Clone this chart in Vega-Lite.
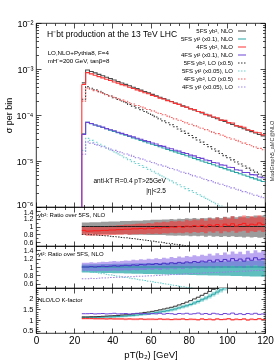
{
"$schema": "https://vega.github.io/schema/vega-lite/v6.json",
"padding": {"left": 3, "top": 18, "right": 2, "bottom": 2},
"bounds": "flush",
"spacing": 0,
"config": {
  "view": {"stroke": "#000", "strokeWidth": 0.8},
  "font": "Liberation Sans",
  "axis": {"domain": false, "grid": false, "labelFont": "Liberation Sans", "labelColor": "#000", "tickColor": "#000", "tickWidth": 0.7, "labelFlush": false, "labelOverlap": false, "titleFont": "Liberation Sans", "titleFontWeight": "normal", "titleColor": "#000"},
  "text": {"font": "Liberation Sans"}
},
"datasets": {
"m": [
{"x":24,"A":5.0e-4,"B":3.9e-5,"C":4.6e-4,"P":3.8e-5,"D":2.2e-4,"T":1.7e-5,"E":2.0e-4,"Q":1.4e-5},
{"x":26,"A":9.50e-4,"B":6.90e-5,"C":8.36e-4,"P":6.90e-5,"D":4.13e-4,"T":3.10e-5,"E":3.87e-4,"Q":2.60e-5},
{"x":28,"A":8.84e-4,"B":6.47e-5,"C":7.82e-4,"P":6.53e-5,"D":3.81e-4,"T":2.81e-5,"E":3.62e-4,"Q":2.45e-5},
{"x":30,"A":8.23e-4,"B":6.07e-5,"C":7.32e-4,"P":6.07e-5,"D":3.55e-4,"T":2.55e-5,"E":3.38e-4,"Q":2.30e-5},
{"x":32,"A":7.66e-4,"B":5.69e-5,"C":6.82e-4,"P":5.75e-5,"D":3.27e-4,"T":2.32e-5,"E":3.16e-4,"Q":2.17e-5},
{"x":34,"A":7.13e-4,"B":5.34e-5,"C":6.42e-4,"P":5.45e-5,"D":3.02e-4,"T":2.11e-5,"E":2.96e-4,"Q":2.04e-5},
{"x":36,"A":6.64e-4,"B":5.01e-5,"C":5.98e-4,"P":5.06e-5,"D":2.79e-4,"T":1.91e-5,"E":2.76e-4,"Q":1.92e-5},
{"x":38,"A":6.18e-4,"B":4.70e-5,"C":5.62e-4,"P":4.79e-5,"D":2.58e-4,"T":1.74e-5,"E":2.58e-4,"Q":1.81e-5},
{"x":40,"A":5.75e-4,"B":4.40e-5,"C":5.23e-4,"P":4.53e-5,"D":2.38e-4,"T":1.58e-5,"E":2.42e-4,"Q":1.70e-5},
{"x":42,"A":5.35e-4,"B":4.13e-5,"C":4.92e-4,"P":4.21e-5,"D":2.19e-4,"T":1.43e-5,"E":2.26e-4,"Q":1.60e-5},
{"x":44,"A":4.98e-4,"B":3.87e-5,"C":4.58e-4,"P":3.99e-5,"D":2.01e-4,"T":1.30e-5,"E":2.11e-4,"Q":1.51e-5},
{"x":46,"A":4.64e-4,"B":3.63e-5,"C":4.32e-4,"P":3.78e-5,"D":1.86e-4,"T":1.18e-5,"E":1.98e-4,"Q":1.42e-5},
{"x":48,"A":4.32e-4,"B":3.41e-5,"C":4.02e-4,"P":3.51e-5,"D":1.70e-4,"T":1.07e-5,"E":1.85e-4,"Q":1.34e-5},
{"x":50,"A":4.02e-4,"B":3.19e-5,"C":3.78e-4,"P":3.35e-5,"D":1.56e-4,"T":9.70e-6,"E":1.73e-4,"Q":1.26e-5},
{"x":52,"A":3.74e-4,"B":3.00e-5,"C":3.52e-4,"P":3.12e-5,"D":1.43e-4,"T":8.81e-6,"E":1.61e-4,"Q":1.18e-5},
{"x":54,"A":3.48e-4,"B":2.81e-5,"C":3.31e-4,"P":2.98e-5,"D":1.31e-4,"T":8.00e-6,"E":1.51e-4,"Q":1.11e-5},
{"x":56,"A":3.24e-4,"B":2.64e-5,"C":3.05e-4,"P":2.77e-5,"D":1.19e-4,"T":7.26e-6,"E":1.41e-4,"Q":1.05e-5},
{"x":58,"A":3.02e-4,"B":2.47e-5,"C":2.90e-4,"P":2.64e-5,"D":1.09e-4,"T":6.59e-6,"E":1.32e-4,"Q":9.86e-6},
{"x":60,"A":2.81e-4,"B":2.32e-5,"C":2.67e-4,"P":2.46e-5,"D":9.96e-5,"T":5.98e-6,"E":1.23e-4,"Q":9.28e-6},
{"x":62,"A":2.61e-4,"B":2.17e-5,"C":2.53e-4,"P":2.34e-5,"D":9.06e-5,"T":5.43e-6,"E":1.15e-4,"Q":8.73e-6},
{"x":64,"A":2.43e-4,"B":2.04e-5,"C":2.33e-4,"P":2.16e-5,"D":8.21e-5,"T":4.93e-6,"E":1.08e-4,"Q":8.22e-6},
{"x":66,"A":2.27e-4,"B":1.91e-5,"C":2.22e-4,"P":2.08e-5,"D":7.47e-5,"T":4.48e-6,"E":1.01e-4,"Q":7.74e-6},
{"x":68,"A":2.11e-4,"B":1.79e-5,"C":2.05e-4,"P":1.92e-5,"D":6.76e-5,"T":4.06e-6,"E":9.43e-5,"Q":7.28e-6},
{"x":70,"A":1.96e-4,"B":1.68e-5,"C":1.94e-4,"P":1.85e-5,"D":6.13e-5,"T":3.69e-6,"E":8.82e-5,"Q":6.85e-6},
{"x":72,"A":1.83e-4,"B":1.58e-5,"C":1.79e-4,"P":1.71e-5,"D":5.55e-5,"T":3.35e-6,"E":8.24e-5,"Q":6.45e-6},
{"x":74,"A":1.70e-4,"B":1.48e-5,"C":1.70e-4,"P":1.64e-5,"D":4.97e-5,"T":3.04e-6,"E":7.71e-5,"Q":6.07e-6},
{"x":76,"A":1.58e-4,"B":1.39e-5,"C":1.55e-4,"P":1.52e-5,"D":4.46e-5,"T":2.76e-6,"E":7.20e-5,"Q":5.71e-6},
{"x":78,"A":1.47e-4,"B":1.30e-5,"C":1.48e-4,"P":1.46e-5,"D":3.99e-5,"T":2.51e-6,"E":6.73e-5,"Q":5.38e-6},
{"x":80,"A":1.37e-4,"B":1.22e-5,"C":1.36e-4,"P":1.34e-5,"D":3.59e-5,"T":2.27e-6,"E":6.30e-5,"Q":5.06e-6},
{"x":82,"A":1.28e-4,"B":1.14e-5,"C":1.31e-4,"P":1.29e-5,"D":3.22e-5,"T":2.06e-6,"E":5.89e-5,"Q":4.76e-6},
{"x":84,"A":1.19e-4,"B":1.07e-5,"C":1.19e-4,"P":1.19e-5,"D":2.87e-5,"T":1.87e-6,"E":5.50e-5,"Q":4.48e-6},
{"x":86,"A":1.11e-4,"B":1.00e-5,"C":1.14e-4,"P":1.14e-5,"D":2.57e-5,"T":1.70e-6,"E":5.14e-5,"Q":4.22e-6},
{"x":88,"A":1.03e-4,"B":9.41e-6,"C":1.02e-4,"P":1.05e-5,"D":2.29e-5,"T":1.54e-6,"E":4.81e-5,"Q":3.97e-6},
{"x":90,"A":9.59e-5,"B":8.83e-6,"C":9.97e-5,"P":1.02e-5,"D":2.05e-5,"T":1.40e-6,"E":4.50e-5,"Q":3.74e-6},
{"x":92,"A":8.93e-5,"B":8.28e-6,"C":9.02e-5,"P":9.27e-6,"D":1.83e-5,"T":1.27e-6,"E":4.20e-5,"Q":3.52e-6},
{"x":94,"A":8.31e-5,"B":7.76e-6,"C":8.73e-5,"P":9.08e-6,"D":1.64e-5,"T":1.16e-6,"E":3.93e-5,"Q":3.31e-6},
{"x":96,"A":7.73e-5,"B":7.28e-6,"C":7.73e-5,"P":8.23e-6,"D":1.46e-5,"T":1.05e-6,"E":3.67e-5,"Q":3.12e-6},
{"x":98,"A":7.20e-5,"B":6.83e-6,"C":7.63e-5,"P":8.06e-6,"D":1.31e-5,"T":9.5e-7,"E":3.43e-5,"Q":2.93e-6},
{"x":100,"A":6.70e-5,"B":6.40e-6,"C":6.83e-5,"P":7.30e-6,"D":1.18e-5,"T":8.6e-7,"E":3.21e-5,"Q":2.76e-6},
{"x":102,"A":6.24e-5,"B":6.01e-6,"C":6.68e-5,"P":7.21e-6,"D":1.06e-5,"T":7.8e-7,"E":3.00e-5,"Q":2.60e-6},
{"x":104,"A":5.80e-5,"B":5.63e-6,"C":5.86e-5,"P":6.47e-6,"D":9.54e-6,"T":7.1e-7,"E":2.81e-5,"Q":2.44e-6},
{"x":106,"A":5.40e-5,"B":5.28e-6,"C":5.67e-5,"P":6.28e-6,"D":8.60e-6,"T":6.5e-7,"E":2.62e-5,"Q":2.30e-6},
{"x":108,"A":5.03e-5,"B":4.95e-6,"C":5.43e-5,"P":5.64e-6,"D":7.76e-6,"T":5.9e-7,"E":2.45e-5,"Q":2.16e-6},
{"x":110,"A":4.68e-5,"B":4.65e-6,"C":4.77e-5,"P":5.63e-6,"D":7.01e-6,"T":5.3e-7,"E":2.29e-5,"Q":2.04e-6},
{"x":112,"A":4.36e-5,"B":4.36e-6,"C":4.62e-5,"P":5.06e-6,"D":6.34e-6,"T":4.8e-7,"E":2.14e-5,"Q":1.92e-6},
{"x":114,"A":4.06e-5,"B":4.09e-6,"C":4.22e-5,"P":4.99e-6,"D":5.73e-6,"T":4.4e-7,"E":2.01e-5,"Q":1.80e-6},
{"x":116,"A":3.77e-5,"B":3.83e-6,"C":4.11e-5,"P":4.48e-6,"D":5.18e-6,"T":4.0e-7,"E":1.88e-5,"Q":1.70e-6},
{"x":118,"A":3.51e-5,"B":3.59e-6,"C":3.69e-5,"P":4.31e-6,"D":4.69e-6,"T":3.6e-7,"E":1.75e-5,"Q":1.60e-6},
{"x":120,"A":3.51e-5,"B":3.59e-6,"C":3.69e-5,"P":4.31e-6,"D":4.69e-6,"T":3.6e-7,"E":1.75e-5,"Q":1.60e-6}
],
"r1": [
{"x":24,"red":0.90,"glo":0.82,"ghi":1.10,"rlo":0.78,"rhi":1.00,"bd":0.80},
{"x":26,"red":0.88,"glo":0.82,"ghi":1.10,"rlo":0.76,"rhi":0.98,"bd":0.80},
{"x":28,"red":0.885,"glo":0.82,"ghi":1.11,"rlo":0.76,"rhi":0.99,"bd":0.79},
{"x":30,"red":0.89,"glo":0.81,"ghi":1.11,"rlo":0.77,"rhi":0.99,"bd":0.785},
{"x":32,"red":0.89,"glo":0.81,"ghi":1.11,"rlo":0.77,"rhi":0.99,"bd":0.775},
{"x":34,"red":0.90,"glo":0.81,"ghi":1.12,"rlo":0.77,"rhi":1.00,"bd":0.77},
{"x":36,"red":0.90,"glo":0.81,"ghi":1.12,"rlo":0.77,"rhi":1.01,"bd":0.76},
{"x":38,"red":0.91,"glo":0.80,"ghi":1.13,"rlo":0.78,"rhi":1.02,"bd":0.75},
{"x":40,"red":0.91,"glo":0.80,"ghi":1.13,"rlo":0.78,"rhi":1.02,"bd":0.74},
{"x":42,"red":0.92,"glo":0.80,"ghi":1.13,"rlo":0.79,"rhi":1.03,"bd":0.73},
{"x":44,"red":0.92,"glo":0.80,"ghi":1.14,"rlo":0.79,"rhi":1.04,"bd":0.72},
{"x":46,"red":0.93,"glo":0.80,"ghi":1.14,"rlo":0.80,"rhi":1.05,"bd":0.71},
{"x":48,"red":0.93,"glo":0.79,"ghi":1.14,"rlo":0.79,"rhi":1.05,"bd":0.70},
{"x":50,"red":0.94,"glo":0.79,"ghi":1.15,"rlo":0.80,"rhi":1.06,"bd":0.69},
{"x":52,"red":0.94,"glo":0.79,"ghi":1.15,"rlo":0.80,"rhi":1.07,"bd":0.675},
{"x":54,"red":0.95,"glo":0.79,"ghi":1.15,"rlo":0.81,"rhi":1.08,"bd":0.665},
{"x":56,"red":0.94,"glo":0.79,"ghi":1.16,"rlo":0.80,"rhi":1.07,"bd":0.65},
{"x":58,"red":0.96,"glo":0.78,"ghi":1.16,"rlo":0.82,"rhi":1.09,"bd":0.64},
{"x":60,"red":0.95,"glo":0.78,"ghi":1.17,"rlo":0.81,"rhi":1.08,"bd":0.625},
{"x":62,"red":0.97,"glo":0.78,"ghi":1.17,"rlo":0.82,"rhi":1.11,"bd":0.61},
{"x":64,"red":0.96,"glo":0.78,"ghi":1.17,"rlo":0.81,"rhi":1.10,"bd":0.60},
{"x":66,"red":0.98,"glo":0.78,"ghi":1.18,"rlo":0.83,"rhi":1.12,"bd":0.585},
{"x":68,"red":0.97,"glo":0.77,"ghi":1.18,"rlo":0.82,"rhi":1.11,"bd":0.57},
{"x":70,"red":0.99,"glo":0.77,"ghi":1.19,"rlo":0.84,"rhi":1.14,"bd":0.56},
{"x":72,"red":0.98,"glo":0.76,"ghi":1.18,"rlo":0.83,"rhi":1.13,"bd":0.545},
{"x":74,"red":1.00,"glo":0.77,"ghi":1.20,"rlo":0.84,"rhi":1.15,"bd":0.53},
{"x":76,"red":0.98,"glo":0.76,"ghi":1.19,"rlo":0.83,"rhi":1.13,"bd":0.52},
{"x":78,"red":1.01,"glo":0.77,"ghi":1.21,"rlo":0.85,"rhi":1.17,"bd":0.505},
{"x":80,"red":0.99,"glo":0.75,"ghi":1.20,"rlo":0.83,"rhi":1.15,"bd":0.49},
{"x":82,"red":1.02,"glo":0.76,"ghi":1.22,"rlo":0.86,"rhi":1.18,"bd":0.475},
{"x":84,"red":1.00,"glo":0.75,"ghi":1.20,"rlo":0.84,"rhi":1.16,"bd":0.46},
{"x":86,"red":1.03,"glo":0.76,"ghi":1.22,"rlo":0.86,"rhi":1.20,"bd":0.45},
{"x":88,"red":0.99,"glo":0.74,"ghi":1.21,"rlo":0.83,"rhi":1.15,"bd":0.43},
{"x":90,"red":1.04,"glo":0.76,"ghi":1.23,"rlo":0.87,"rhi":1.21,"bd":0.42},
{"x":92,"red":1.01,"glo":0.74,"ghi":1.21,"rlo":0.84,"rhi":1.18,"bd":0.41},
{"x":94,"red":1.05,"glo":0.75,"ghi":1.24,"rlo":0.88,"rhi":1.23,"bd":0.40},
{"x":96,"red":1.00,"glo":0.73,"ghi":1.22,"rlo":0.83,"rhi":1.17,"bd":0.385},
{"x":98,"red":1.06,"glo":0.75,"ghi":1.25,"rlo":0.88,"rhi":1.24,"bd":0.37},
{"x":100,"red":1.02,"glo":0.73,"ghi":1.23,"rlo":0.85,"rhi":1.20,"bd":0.36},
{"x":102,"red":1.07,"glo":0.75,"ghi":1.26,"rlo":0.89,"rhi":1.26,"bd":0.35},
{"x":104,"red":1.01,"glo":0.73,"ghi":1.24,"rlo":0.84,"rhi":1.19,"bd":0.34},
{"x":106,"red":1.05,"glo":0.74,"ghi":1.26,"rlo":0.87,"rhi":1.24,"bd":0.33},
{"x":108,"red":1.08,"glo":0.72,"ghi":1.24,"rlo":0.89,"rhi":1.28,"bd":0.32},
{"x":110,"red":1.02,"glo":0.74,"ghi":1.27,"rlo":0.84,"rhi":1.21,"bd":0.31},
{"x":112,"red":1.06,"glo":0.72,"ghi":1.25,"rlo":0.88,"rhi":1.26,"bd":0.30},
{"x":114,"red":1.04,"glo":0.73,"ghi":1.28,"rlo":0.86,"rhi":1.23,"bd":0.29},
{"x":116,"red":1.09,"glo":0.71,"ghi":1.26,"rlo":0.90,"rhi":1.29,"bd":0.285},
{"x":118,"red":1.05,"glo":0.72,"ghi":1.28,"rlo":0.86,"rhi":1.24,"bd":0.28},
{"x":120,"red":1.05,"glo":0.72,"ghi":1.28,"rlo":0.86,"rhi":1.24,"bd":0.28}
],
"r2": [
{"x":24,"p":1.00,"plo":0.90,"phi":1.10,"tlo":0.87,"thi":1.06,"td":0.90,"pd":0.72},
{"x":26,"p":1.00,"plo":0.90,"phi":1.10,"tlo":0.868,"thi":1.062,"td":0.90,"pd":0.72},
{"x":28,"p":1.01,"plo":0.907,"phi":1.113,"tlo":0.866,"thi":1.064,"td":0.885,"pd":0.73},
{"x":30,"p":1.00,"plo":0.897,"phi":1.103,"tlo":0.864,"thi":1.066,"td":0.870,"pd":0.725},
{"x":32,"p":1.01,"plo":0.905,"phi":1.115,"tlo":0.861,"thi":1.068,"td":0.856,"pd":0.735},
{"x":34,"p":1.02,"plo":0.913,"phi":1.127,"tlo":0.859,"thi":1.070,"td":0.841,"pd":0.74},
{"x":36,"p":1.01,"plo":0.903,"phi":1.117,"tlo":0.857,"thi":1.072,"td":0.826,"pd":0.74},
{"x":38,"p":1.02,"plo":0.910,"phi":1.130,"tlo":0.855,"thi":1.073,"td":0.811,"pd":0.75},
{"x":40,"p":1.03,"plo":0.918,"phi":1.142,"tlo":0.853,"thi":1.075,"td":0.796,"pd":0.75},
{"x":42,"p":1.02,"plo":0.908,"phi":1.132,"tlo":0.851,"thi":1.077,"td":0.782,"pd":0.755},
{"x":44,"p":1.03,"plo":0.916,"phi":1.144,"tlo":0.849,"thi":1.079,"td":0.767,"pd":0.76},
{"x":46,"p":1.04,"plo":0.924,"phi":1.156,"tlo":0.847,"thi":1.081,"td":0.752,"pd":0.765},
{"x":48,"p":1.03,"plo":0.914,"phi":1.146,"tlo":0.845,"thi":1.083,"td":0.737,"pd":0.77},
{"x":50,"p":1.05,"plo":0.930,"phi":1.170,"tlo":0.842,"thi":1.085,"td":0.722,"pd":0.77},
{"x":52,"p":1.04,"plo":0.921,"phi":1.159,"tlo":0.840,"thi":1.087,"td":0.708,"pd":0.78},
{"x":54,"p":1.06,"plo":0.937,"phi":1.183,"tlo":0.838,"thi":1.089,"td":0.693,"pd":0.78},
{"x":56,"p":1.05,"plo":0.927,"phi":1.173,"tlo":0.836,"thi":1.091,"td":0.678,"pd":0.785},
{"x":58,"p":1.07,"plo":0.944,"phi":1.196,"tlo":0.834,"thi":1.093,"td":0.663,"pd":0.79},
{"x":60,"p":1.06,"plo":0.934,"phi":1.186,"tlo":0.832,"thi":1.094,"td":0.648,"pd":0.79},
{"x":62,"p":1.08,"plo":0.950,"phi":1.210,"tlo":0.830,"thi":1.096,"td":0.634,"pd":0.80},
{"x":64,"p":1.06,"plo":0.931,"phi":1.189,"tlo":0.827,"thi":1.098,"td":0.619,"pd":0.80},
{"x":66,"p":1.09,"plo":0.957,"phi":1.223,"tlo":0.825,"thi":1.100,"td":0.604,"pd":0.81},
{"x":68,"p":1.07,"plo":0.938,"phi":1.202,"tlo":0.823,"thi":1.102,"td":0.589,"pd":0.81},
{"x":70,"p":1.10,"plo":0.963,"phi":1.237,"tlo":0.821,"thi":1.104,"td":0.574,"pd":0.82},
{"x":72,"p":1.08,"plo":0.944,"phi":1.216,"tlo":0.819,"thi":1.106,"td":0.560,"pd":0.82},
{"x":74,"p":1.11,"plo":0.970,"phi":1.250,"tlo":0.817,"thi":1.108,"td":0.545,"pd":0.83},
{"x":76,"p":1.09,"plo":0.951,"phi":1.229,"tlo":0.815,"thi":1.110,"td":0.530,"pd":0.83},
{"x":78,"p":1.12,"plo":0.976,"phi":1.264,"tlo":0.813,"thi":1.112,"td":0.515,"pd":0.84},
{"x":80,"p":1.10,"plo":0.957,"phi":1.243,"tlo":0.810,"thi":1.114,"td":0.500,"pd":0.84},
{"x":82,"p":1.13,"plo":0.982,"phi":1.278,"tlo":0.808,"thi":1.116,"td":0.486,"pd":0.845},
{"x":84,"p":1.11,"plo":0.964,"phi":1.256,"tlo":0.806,"thi":1.117,"td":0.471,"pd":0.85},
{"x":86,"p":1.14,"plo":0.988,"phi":1.292,"tlo":0.804,"thi":1.119,"td":0.456,"pd":0.855},
{"x":88,"p":1.12,"plo":0.970,"phi":1.270,"tlo":0.802,"thi":1.121,"td":0.441,"pd":0.86},
{"x":90,"p":1.16,"plo":1.003,"phi":1.317,"tlo":0.800,"thi":1.123,"td":0.426,"pd":0.865},
{"x":92,"p":1.12,"plo":0.968,"phi":1.272,"tlo":0.798,"thi":1.125,"td":0.412,"pd":0.87},
{"x":94,"p":1.17,"plo":1.010,"phi":1.330,"tlo":0.796,"thi":1.127,"td":0.397,"pd":0.87},
{"x":96,"p":1.13,"plo":0.974,"phi":1.286,"tlo":0.793,"thi":1.129,"td":0.382,"pd":0.875},
{"x":98,"p":1.18,"plo":1.016,"phi":1.344,"tlo":0.791,"thi":1.131,"td":0.367,"pd":0.88},
{"x":100,"p":1.14,"plo":0.980,"phi":1.300,"tlo":0.789,"thi":1.133,"td":0.352,"pd":0.885},
{"x":102,"p":1.20,"plo":1.030,"phi":1.370,"tlo":0.787,"thi":1.135,"td":0.338,"pd":0.89},
{"x":104,"p":1.15,"plo":0.986,"phi":1.314,"tlo":0.785,"thi":1.137,"td":0.323,"pd":0.89},
{"x":106,"p":1.19,"plo":1.019,"phi":1.361,"tlo":0.783,"thi":1.138,"td":0.308,"pd":0.90},
{"x":108,"p":1.14,"plo":0.975,"phi":1.305,"tlo":0.781,"thi":1.140,"td":0.293,"pd":0.90},
{"x":110,"p":1.21,"plo":1.034,"phi":1.386,"tlo":0.779,"thi":1.142,"td":0.278,"pd":0.905},
{"x":112,"p":1.16,"plo":0.990,"phi":1.330,"tlo":0.776,"thi":1.144,"td":0.264,"pd":0.91},
{"x":114,"p":1.22,"plo":1.040,"phi":1.400,"tlo":0.774,"thi":1.146,"td":0.249,"pd":0.915},
{"x":116,"p":1.17,"plo":0.996,"phi":1.344,"tlo":0.772,"thi":1.148,"td":0.234,"pd":0.92},
{"x":118,"p":1.20,"plo":1.020,"phi":1.380,"tlo":0.770,"thi":1.150,"td":0.219,"pd":0.92},
{"x":120,"p":1.20,"plo":1.020,"phi":1.380,"tlo":0.770,"thi":1.150,"td":0.219,"pd":0.92}
],
"r3": [
{"x":24,"kb":1.15,"kt":1.12,"kp":1.30,"kr":1.08,"tl":1.064,"th":1.176,"rl":1.03,"rh":1.10},
{"x":26,"kb":1.15,"kt":1.12,"kp":1.30,"kr":1.08,"tl":1.064,"th":1.176,"rl":1.03,"rh":1.10},
{"x":28,"kb":1.16,"kt":1.12,"kp":1.31,"kr":1.08,"tl":1.064,"th":1.176,"rl":1.03,"rh":1.10},
{"x":30,"kb":1.16,"kt":1.13,"kp":1.29,"kr":1.07,"tl":1.074,"th":1.187,"rl":1.02,"rh":1.09},
{"x":32,"kb":1.17,"kt":1.13,"kp":1.30,"kr":1.07,"tl":1.074,"th":1.187,"rl":1.02,"rh":1.09},
{"x":34,"kb":1.18,"kt":1.14,"kp":1.31,"kr":1.07,"tl":1.083,"th":1.197,"rl":1.02,"rh":1.09},
{"x":36,"kb":1.19,"kt":1.15,"kp":1.29,"kr":1.06,"tl":1.093,"th":1.208,"rl":1.01,"rh":1.08},
{"x":38,"kb":1.20,"kt":1.15,"kp":1.30,"kr":1.07,"tl":1.093,"th":1.208,"rl":1.02,"rh":1.09},
{"x":40,"kb":1.21,"kt":1.16,"kp":1.32,"kr":1.06,"tl":1.102,"th":1.218,"rl":1.01,"rh":1.08},
{"x":42,"kb":1.22,"kt":1.17,"kp":1.29,"kr":1.06,"tl":1.112,"th":1.229,"rl":1.01,"rh":1.08},
{"x":44,"kb":1.24,"kt":1.18,"kp":1.30,"kr":1.06,"tl":1.121,"th":1.239,"rl":1.01,"rh":1.08},
{"x":46,"kb":1.25,"kt":1.19,"kp":1.31,"kr":1.05,"tl":1.131,"th":1.250,"rl":1.00,"rh":1.07},
{"x":48,"kb":1.27,"kt":1.21,"kp":1.28,"kr":1.06,"tl":1.150,"th":1.271,"rl":1.01,"rh":1.08},
{"x":50,"kb":1.29,"kt":1.22,"kp":1.30,"kr":1.05,"tl":1.159,"th":1.281,"rl":1.00,"rh":1.07},
{"x":52,"kb":1.31,"kt":1.24,"kp":1.32,"kr":1.05,"tl":1.178,"th":1.302,"rl":1.00,"rh":1.07},
{"x":54,"kb":1.33,"kt":1.26,"kp":1.29,"kr":1.06,"tl":1.197,"th":1.323,"rl":1.01,"rh":1.08},
{"x":56,"kb":1.36,"kt":1.28,"kp":1.31,"kr":1.04,"tl":1.216,"th":1.344,"rl":0.99,"rh":1.06},
{"x":58,"kb":1.38,"kt":1.30,"kp":1.28,"kr":1.05,"tl":1.235,"th":1.365,"rl":1.00,"rh":1.07},
{"x":60,"kb":1.41,"kt":1.32,"kp":1.31,"kr":1.05,"tl":1.254,"th":1.386,"rl":1.00,"rh":1.07},
{"x":62,"kb":1.44,"kt":1.35,"kp":1.29,"kr":1.04,"tl":1.283,"th":1.418,"rl":0.99,"rh":1.06},
{"x":64,"kb":1.48,"kt":1.38,"kp":1.32,"kr":1.06,"tl":1.311,"th":1.449,"rl":1.01,"rh":1.08},
{"x":66,"kb":1.52,"kt":1.41,"kp":1.28,"kr":1.04,"tl":1.340,"th":1.481,"rl":0.99,"rh":1.06},
{"x":68,"kb":1.56,"kt":1.44,"kp":1.31,"kr":1.05,"tl":1.368,"th":1.512,"rl":1.00,"rh":1.07},
{"x":70,"kb":1.60,"kt":1.48,"kp":1.30,"kr":1.03,"tl":1.406,"th":1.554,"rl":0.98,"rh":1.05},
{"x":72,"kb":1.65,"kt":1.52,"kp":1.27,"kr":1.05,"tl":1.444,"th":1.596,"rl":1.00,"rh":1.07},
{"x":74,"kb":1.71,"kt":1.57,"kp":1.31,"kr":1.04,"tl":1.492,"th":1.649,"rl":0.99,"rh":1.06},
{"x":76,"kb":1.77,"kt":1.62,"kp":1.29,"kr":1.06,"tl":1.539,"th":1.701,"rl":1.01,"rh":1.08},
{"x":78,"kb":1.84,"kt":1.67,"kp":1.32,"kr":1.03,"tl":1.587,"th":1.754,"rl":0.98,"rh":1.05},
{"x":80,"kb":1.91,"kt":1.73,"kp":1.28,"kr":1.05,"tl":1.644,"th":1.817,"rl":1.00,"rh":1.07},
{"x":82,"kb":1.99,"kt":1.80,"kp":1.30,"kr":1.04,"tl":1.710,"th":1.890,"rl":0.99,"rh":1.06},
{"x":84,"kb":2.07,"kt":1.87,"kp":1.33,"kr":1.02,"tl":1.777,"th":1.964,"rl":0.97,"rh":1.04},
{"x":86,"kb":2.16,"kt":1.95,"kp":1.28,"kr":1.06,"tl":1.853,"th":2.048,"rl":1.01,"rh":1.08},
{"x":88,"kb":2.25,"kt":2.03,"kp":1.31,"kr":1.03,"tl":1.929,"th":2.132,"rl":0.98,"rh":1.05},
{"x":90,"kb":2.34,"kt":2.12,"kp":1.27,"kr":1.05,"tl":2.014,"th":2.226,"rl":1.00,"rh":1.07},
{"x":92,"kb":2.44,"kt":2.21,"kp":1.32,"kr":1.02,"tl":2.100,"th":2.321,"rl":0.97,"rh":1.04},
{"x":94,"kb":2.54,"kt":2.31,"kp":1.29,"kr":1.06,"tl":2.195,"th":2.426,"rl":1.01,"rh":1.08},
{"x":96,"kb":2.64,"kt":2.41,"kp":1.26,"kr":1.03,"tl":2.290,"th":2.531,"rl":0.98,"rh":1.05},
{"x":98,"kb":2.74,"kt":2.51,"kp":1.31,"kr":1.04,"tl":2.385,"th":2.636,"rl":0.99,"rh":1.06},
{"x":100,"kb":2.84,"kt":2.62,"kp":1.28,"kr":1.07,"tl":2.489,"th":2.751,"rl":1.02,"rh":1.09},
{"x":102,"kb":2.94,"kt":2.73,"kp":1.33,"kr":1.02,"tl":2.594,"th":2.867,"rl":0.97,"rh":1.04},
{"x":104,"kb":3.04,"kt":2.85,"kp":1.27,"kr":1.05,"tl":2.708,"th":2.993,"rl":1.00,"rh":1.07},
{"x":106,"kb":3.14,"kt":2.97,"kp":1.30,"kr":1.03,"tl":2.822,"th":3.119,"rl":0.98,"rh":1.05},
{"x":108,"kb":3.24,"kt":3.10,"kp":1.26,"kr":1.06,"tl":2.945,"th":3.255,"rl":1.01,"rh":1.08},
{"x":110,"kb":3.34,"kt":3.20,"kp":1.31,"kr":1.01,"tl":3.04,"th":3.36,"rl":0.96,"rh":1.03},
{"x":112,"kb":3.44,"kt":3.30,"kp":1.28,"kr":1.05,"tl":3.135,"th":3.465,"rl":1.00,"rh":1.07},
{"x":114,"kb":3.54,"kt":3.40,"kp":1.32,"kr":1.03,"tl":3.23,"th":3.57,"rl":0.98,"rh":1.05},
{"x":116,"kb":3.64,"kt":3.50,"kp":1.27,"kr":1.07,"tl":3.325,"th":3.675,"rl":1.02,"rh":1.09},
{"x":118,"kb":3.74,"kt":3.60,"kp":1.29,"kr":1.03,"tl":3.42,"th":3.78,"rl":0.98,"rh":1.05},
{"x":120,"kb":3.74,"kt":3.60,"kp":1.29,"kr":1.03,"tl":3.42,"th":3.78,"rl":0.98,"rh":1.05}
]
},
"vconcat": [
{
 "width": 229, "height": 184,
 "data": {"name": "m"},
 "resolve": {"axis": {"x": "independent", "y": "independent"}},
 "layer": [
  {
   "transform": [{"fold": ["A","B","C","P","D","T","E","Q"], "as": ["s","v"]}],
   "mark": {"type": "line", "interpolate": "step-after", "clip": true, "strokeWidth": 1.1},
   "encoding": {
    "x": {"field": "x", "type": "quantitative", "scale": {"domain": [0,120], "nice": false, "zero": false},
          "axis": {"orient": "bottom", "values": [0,5,10,15,20,25,30,35,40,45,50,55,60,65,70,75,80,85,90,95,100,105,110,115,120], "labels": false, "title": null, "tickSize": {"condition": {"test": "datum.value % 20 == 0", "value": -5}, "value": -2.5}}},
    "y": {"field": "v", "type": "quantitative", "scale": {"type": "log", "domain": [0.000001, 0.01], "nice": false},
          "axis": {"orient": "left", "values": [1e-6,2e-6,3e-6,4e-6,5e-6,6e-6,7e-6,8e-6,9e-6,1e-5,2e-5,3e-5,4e-5,5e-5,6e-5,7e-5,8e-5,9e-5,1e-4,2e-4,3e-4,4e-4,5e-4,6e-4,7e-4,8e-4,9e-4,1e-3,2e-3,3e-3,4e-3,5e-3,6e-3,7e-3,8e-3,9e-3,1e-2],
                   "labelExpr": "datum.value == 0.01 ? '10⁻²' : datum.value == 0.001 ? '10⁻³' : datum.value == 0.0001 ? '10⁻⁴' : datum.value == 0.00001 ? '10⁻⁵' : datum.value == 0.000001 ? '10⁻⁶' : ''",
                   "labelFontSize": 9, "labelPadding": 8,
                   "labelOffset": {"condition": {"test": "datum.value == 0.000001", "value": -2.5}, "value": 0},
                   "tickSize": {"condition": {"test": "datum.value == 0.01 || datum.value == 0.001 || datum.value == 0.0001 || datum.value == 0.00001 || datum.value == 0.000001", "value": -5}, "value": -2.5},
                   "title": "σ per bin", "titleFontSize": 9, "titlePadding": 3}},
    "color": {"field": "s", "type": "nominal",
              "scale": {"domain": ["A","B","C","P","D","T","E","Q"], "range": ["#4a4a4a","#2aa5a5","#ff3333","#6f45d8","#333333","#6fd0d0","#ff5a5a","#a088ea"]},
              "legend": {"orient": "none", "legendX": 201, "legendY": 3, "title": null, "symbolType": "stroke", "symbolSize": 64, "symbolStrokeWidth": 1.2, "labelAlign": "right", "labelOffset": -14, "labelFontSize": 6, "labelFont": "Liberation Sans", "rowPadding": 0, "padding": 0,
                         "labelExpr": "datum.label == 'A' ? '5FS yb², NLO' : datum.label == 'B' ? '5FS yt² (x0.1), NLO' : datum.label == 'C' ? '4FS yb², NLO' : datum.label == 'P' ? '4FS yt² (x0.1), NLO' : datum.label == 'D' ? '5FS yb², LO (x0.5)' : datum.label == 'T' ? '5FS yt² (x0.05), LO' : datum.label == 'E' ? '4FS yb², LO (x0.5)' : '4FS yt² (x0.05), LO'"}},
    "strokeDash": {"field": "s", "type": "nominal",
              "scale": {"domain": ["A","B","C","P","D","T","E","Q"], "range": [[1,0],[1,0],[1,0],[1,0],[1.5,1.5],[1.5,1.5],[1.5,1.5],[1.5,1.5]]},
              "legend": {"orient": "none", "legendX": 201, "legendY": 3, "title": null, "symbolType": "stroke", "symbolSize": 64, "symbolStrokeWidth": 1.2, "labelAlign": "right", "labelOffset": -14, "labelFontSize": 6, "labelFont": "Liberation Sans", "rowPadding": 0, "padding": 0,
                         "labelExpr": "datum.label == 'A' ? '5FS yb², NLO' : datum.label == 'B' ? '5FS yt² (x0.1), NLO' : datum.label == 'C' ? '4FS yb², NLO' : datum.label == 'P' ? '4FS yt² (x0.1), NLO' : datum.label == 'D' ? '5FS yb², LO (x0.5)' : datum.label == 'T' ? '5FS yt² (x0.05), LO' : datum.label == 'E' ? '4FS yb², LO (x0.5)' : '4FS yt² (x0.05), LO'"}}
   }
  },
  {
   "transform": [{"filter": "datum.x == 24"}],
   "mark": {"type": "rule", "color": "#ff3333", "strokeWidth": 1.1},
   "encoding": {
    "x": {"field": "x", "type": "quantitative", "scale": {"domain": [0,120], "nice": false, "zero": false}, "axis": null},
    "y": {"field": "C", "type": "quantitative", "scale": {"type": "log", "domain": [0.000001, 0.01], "nice": false}, "axis": null},
    "y2": {"datum": 0.000001}
   }
  },
  {
   "transform": [{"filter": "datum.x == 24"}],
   "mark": {"type": "rule", "color": "#6f45d8", "strokeWidth": 1.1},
   "encoding": {
    "x": {"field": "x", "type": "quantitative", "scale": {"domain": [0,120], "nice": false, "zero": false},
          "axis": {"orient": "top", "values": [0,5,10,15,20,25,30,35,40,45,50,55,60,65,70,75,80,85,90,95,100,105,110,115,120], "labels": false, "title": null, "tickSize": {"condition": {"test": "datum.value % 20 == 0", "value": -5}, "value": -2.5}}},
    "y": {"field": "P", "type": "quantitative", "scale": {"type": "log", "domain": [0.000001, 0.01], "nice": false},
          "axis": {"orient": "right", "values": [1e-6,2e-6,3e-6,4e-6,5e-6,6e-6,7e-6,8e-6,9e-6,1e-5,2e-5,3e-5,4e-5,5e-5,6e-5,7e-5,8e-5,9e-5,1e-4,2e-4,3e-4,4e-4,5e-4,6e-4,7e-4,8e-4,9e-4,1e-3,2e-3,3e-3,4e-3,5e-3,6e-3,7e-3,8e-3,9e-3,1e-2], "labels": false, "title": null,
                   "tickSize": {"condition": {"test": "datum.value == 0.01 || datum.value == 0.001 || datum.value == 0.0001 || datum.value == 0.00001 || datum.value == 0.000001", "value": -5}, "value": -2.5}}},
    "y2": {"datum": 0.000001}
   }
  },
  {
   "data": {"values": [{}]},
   "mark": {"type": "text", "align": "left", "baseline": "middle", "fontSize": 8.5},
   "encoding": {"x": {"datum": 5.8, "type": "quantitative", "scale": {"domain": [0,120], "nice": false, "zero": false}, "axis": null},
                "y": {"datum": 0.00577, "type": "quantitative", "scale": {"type": "log", "domain": [0.000001, 0.01], "nice": false}, "axis": null},
                "text": {"value": "H⁻bt production at the 13 TeV LHC"}}
  },
  {
   "data": {"values": [{}]},
   "mark": {"type": "text", "align": "left", "baseline": "middle", "fontSize": 6.2},
   "encoding": {"x": {"datum": 6.1, "type": "quantitative", "scale": {"domain": [0,120], "nice": false, "zero": false}, "axis": null},
                "y": {"datum": 0.00223, "type": "quantitative", "scale": {"type": "log", "domain": [0.000001, 0.01], "nice": false}, "axis": null},
                "text": {"value": "LO,NLO+Pythia8, F=4"}}
  },
  {
   "data": {"values": [{}]},
   "mark": {"type": "text", "align": "left", "baseline": "middle", "fontSize": 6.2},
   "encoding": {"x": {"datum": 6.1, "type": "quantitative", "scale": {"domain": [0,120], "nice": false, "zero": false}, "axis": null},
                "y": {"datum": 0.00153, "type": "quantitative", "scale": {"type": "log", "domain": [0.000001, 0.01], "nice": false}, "axis": null},
                "text": {"value": "mH⁻=200 GeV, tanβ=8"}}
  },
  {
   "data": {"values": [{}]},
   "mark": {"type": "text", "align": "right", "baseline": "middle", "fontSize": 6.5},
   "encoding": {"x": {"datum": 68.1, "type": "quantitative", "scale": {"domain": [0,120], "nice": false, "zero": false}, "axis": null},
                "y": {"datum": 0.00000367, "type": "quantitative", "scale": {"type": "log", "domain": [0.000001, 0.01], "nice": false}, "axis": null},
                "text": {"value": "anti-kT R=0.4 pT>25GeV"}}
  },
  {
   "data": {"values": [{}]},
   "mark": {"type": "text", "align": "right", "baseline": "middle", "fontSize": 6.5},
   "encoding": {"x": {"datum": 68.1, "type": "quantitative", "scale": {"domain": [0,120], "nice": false, "zero": false}, "axis": null},
                "y": {"datum": 0.00000223, "type": "quantitative", "scale": {"type": "log", "domain": [0.000001, 0.01], "nice": false}, "axis": null},
                "text": {"value": "|η|<2.5"}}
  },
  {
   "data": {"values": [{}]},
   "mark": {"type": "text", "align": "center", "baseline": "middle", "fontSize": 5.5, "angle": 270, "color": "#333"},
   "encoding": {"x": {"datum": 123.7, "type": "quantitative", "scale": {"domain": [0,120], "nice": false, "zero": false}, "axis": null},
                "y": {"datum": 0.0000165, "type": "quantitative", "scale": {"type": "log", "domain": [0.000001, 0.01], "nice": false}, "axis": null},
                "text": {"value": "MadGraph5_aMC@NLO"}}
  }
 ]
},
{
 "width": 229, "height": 39,
 "data": {"name": "r1"},
 "resolve": {"axis": {"x": "independent", "y": "independent"}},
 "layer": [
  {
   "mark": {"type": "area", "interpolate": "step-after", "color": "#9c9c9c", "clip": true},
   "encoding": {
    "x": {"field": "x", "type": "quantitative", "scale": {"domain": [0,120], "nice": false, "zero": false},
          "axis": {"orient": "bottom", "values": [0,5,10,15,20,25,30,35,40,45,50,55,60,65,70,75,80,85,90,95,100,105,110,115,120], "labels": false, "title": null, "tickSize": {"condition": {"test": "datum.value % 20 == 0", "value": -5}, "value": -2.5}}},
    "y": {"field": "glo", "type": "quantitative", "scale": {"domain": [0.5,1.5], "nice": false, "zero": false},
          "axis": {"orient": "left", "values": [0.5,0.6,0.7,0.8,0.9,1,1.1,1.2,1.3,1.4,1.5], "labelExpr": "(round(datum.value*10) % 2 == 0 && datum.value > 0.55 && datum.value < 1.45) ? format(datum.value, '.1~f') : ''", "labelFontSize": 7, "labelPadding": 7, "title": null,
                   "labelOffset": {"condition": {"test": "datum.value > 1.35", "value": 1.5}, "value": 0},
                   "tickSize": {"condition": {"test": "round(datum.value*10) % 2 == 0", "value": -4}, "value": -2}}},
    "y2": {"field": "ghi"}
   }
  },
  {
   "mark": {"type": "area", "interpolate": "step-after", "color": "#ff2a2a", "opacity": 0.55, "clip": true},
   "encoding": {
    "x": {"field": "x", "type": "quantitative", "scale": {"domain": [0,120], "nice": false, "zero": false}, "axis": null},
    "y": {"field": "rlo", "type": "quantitative", "scale": {"domain": [0.5,1.5], "nice": false, "zero": false}, "axis": null},
    "y2": {"field": "rhi"}
   }
  },
  {
   "mark": {"type": "line", "color": "#222", "strokeWidth": 1},
   "encoding": {
    "x": {"field": "x", "type": "quantitative", "scale": {"domain": [0,120], "nice": false, "zero": false}, "axis": null},
    "y": {"datum": 1, "type": "quantitative", "scale": {"domain": [0.5,1.5], "nice": false, "zero": false}, "axis": null}
   }
  },
  {
   "mark": {"type": "line", "interpolate": "step-after", "color": "#ff1a1a", "strokeWidth": 1, "clip": true},
   "encoding": {
    "x": {"field": "x", "type": "quantitative", "scale": {"domain": [0,120], "nice": false, "zero": false},
          "axis": {"orient": "top", "values": [0,5,10,15,20,25,30,35,40,45,50,55,60,65,70,75,80,85,90,95,100,105,110,115,120], "labels": false, "title": null, "tickSize": {"condition": {"test": "datum.value % 20 == 0", "value": -5}, "value": -2.5}}},
    "y": {"field": "red", "type": "quantitative", "scale": {"domain": [0.5,1.5], "nice": false, "zero": false},
          "axis": {"orient": "right", "values": [0.5,0.6,0.7,0.8,0.9,1,1.1,1.2,1.3,1.4,1.5], "labels": false, "title": null, "tickSize": {"condition": {"test": "round(datum.value*10) % 2 == 0", "value": -4}, "value": -2}}}
   }
  },
  {
   "mark": {"type": "line", "interpolate": "step-after", "color": "#222", "strokeWidth": 1, "strokeDash": [1.5,1.5], "clip": true},
   "encoding": {
    "x": {"field": "x", "type": "quantitative", "scale": {"domain": [0,120], "nice": false, "zero": false}, "axis": null},
    "y": {"field": "bd", "type": "quantitative", "scale": {"domain": [0.5,1.5], "nice": false, "zero": false}, "axis": null}
   }
  },
  {
   "data": {"values": [{}]},
   "mark": {"type": "text", "align": "left", "baseline": "middle", "fontSize": 6},
   "encoding": {"x": {"datum": 1.0, "type": "quantitative", "scale": {"domain": [0,120], "nice": false, "zero": false}, "axis": null},
                "y": {"datum": 1.3, "type": "quantitative", "scale": {"domain": [0.5,1.5], "nice": false, "zero": false}, "axis": null},
                "text": {"value": "yb²: Ratio over 5FS, NLO"}}
  }
 ]
},
{
 "width": 229, "height": 42,
 "data": {"name": "r2"},
 "resolve": {"axis": {"x": "independent", "y": "independent"}},
 "layer": [
  {
   "mark": {"type": "area", "interpolate": "step-after", "color": "#2aa8a8", "opacity": 0.75, "clip": true},
   "encoding": {
    "x": {"field": "x", "type": "quantitative", "scale": {"domain": [0,120], "nice": false, "zero": false},
          "axis": {"orient": "bottom", "values": [0,5,10,15,20,25,30,35,40,45,50,55,60,65,70,75,80,85,90,95,100,105,110,115,120], "labels": false, "title": null, "tickSize": {"condition": {"test": "datum.value % 20 == 0", "value": -5}, "value": -2.5}}},
    "y": {"field": "tlo", "type": "quantitative", "scale": {"domain": [0.5,1.5], "nice": false, "zero": false},
          "axis": {"orient": "left", "values": [0.5,0.6,0.7,0.8,0.9,1,1.1,1.2,1.3,1.4,1.5], "labelExpr": "(round(datum.value*10) % 2 == 0 && datum.value > 0.55 && datum.value < 1.45) ? format(datum.value, '.1~f') : ''", "labelFontSize": 7, "labelPadding": 7, "title": null,
                   "tickSize": {"condition": {"test": "round(datum.value*10) % 2 == 0", "value": -4}, "value": -2}}},
    "y2": {"field": "thi"}
   }
  },
  {
   "mark": {"type": "area", "interpolate": "step-after", "color": "#8b6be8", "opacity": 0.6, "blend": "multiply", "clip": true},
   "encoding": {
    "x": {"field": "x", "type": "quantitative", "scale": {"domain": [0,120], "nice": false, "zero": false}, "axis": null},
    "y": {"field": "plo", "type": "quantitative", "scale": {"domain": [0.5,1.5], "nice": false, "zero": false}, "axis": null},
    "y2": {"field": "phi"}
   }
  },
  {
   "mark": {"type": "line", "color": "#1f9a9a", "strokeWidth": 1},
   "encoding": {
    "x": {"field": "x", "type": "quantitative", "scale": {"domain": [0,120], "nice": false, "zero": false}, "axis": null},
    "y": {"datum": 1, "type": "quantitative", "scale": {"domain": [0.5,1.5], "nice": false, "zero": false}, "axis": null}
   }
  },
  {
   "mark": {"type": "line", "interpolate": "step-after", "color": "#4a2fc8", "strokeWidth": 1, "clip": true},
   "encoding": {
    "x": {"field": "x", "type": "quantitative", "scale": {"domain": [0,120], "nice": false, "zero": false},
          "axis": {"orient": "top", "values": [0,5,10,15,20,25,30,35,40,45,50,55,60,65,70,75,80,85,90,95,100,105,110,115,120], "labels": false, "title": null, "tickSize": {"condition": {"test": "datum.value % 20 == 0", "value": -5}, "value": -2.5}}},
    "y": {"field": "p", "type": "quantitative", "scale": {"domain": [0.5,1.5], "nice": false, "zero": false},
          "axis": {"orient": "right", "values": [0.5,0.6,0.7,0.8,0.9,1,1.1,1.2,1.3,1.4,1.5], "labels": false, "title": null, "tickSize": {"condition": {"test": "round(datum.value*10) % 2 == 0", "value": -4}, "value": -2}}}
   }
  },
  {
   "mark": {"type": "line", "interpolate": "step-after", "color": "#5cc8c8", "strokeWidth": 1, "strokeDash": [1.5,1.5], "clip": true},
   "encoding": {
    "x": {"field": "x", "type": "quantitative", "scale": {"domain": [0,120], "nice": false, "zero": false}, "axis": null},
    "y": {"field": "td", "type": "quantitative", "scale": {"domain": [0.5,1.5], "nice": false, "zero": false}, "axis": null}
   }
  },
  {
   "mark": {"type": "line", "interpolate": "step-after", "color": "#9a7ee6", "strokeWidth": 1, "strokeDash": [1.5,1.5], "clip": true},
   "encoding": {
    "x": {"field": "x", "type": "quantitative", "scale": {"domain": [0,120], "nice": false, "zero": false}, "axis": null},
    "y": {"field": "pd", "type": "quantitative", "scale": {"domain": [0.5,1.5], "nice": false, "zero": false}, "axis": null}
   }
  },
  {
   "data": {"values": [{}]},
   "mark": {"type": "text", "align": "left", "baseline": "middle", "fontSize": 6},
   "encoding": {"x": {"datum": 1.0, "type": "quantitative", "scale": {"domain": [0,120], "nice": false, "zero": false}, "axis": null},
                "y": {"datum": 1.3, "type": "quantitative", "scale": {"domain": [0.5,1.5], "nice": false, "zero": false}, "axis": null},
                "text": {"value": "yt²: Ratio over 5FS, NLO"}}
  }
 ]
},
{
 "width": 229, "height": 45,
 "data": {"name": "r3"},
 "resolve": {"axis": {"x": "independent", "y": "independent"}},
 "layer": [
  {
   "mark": {"type": "area", "interpolate": "step-after", "color": "#a8e0e0", "clip": true},
   "encoding": {
    "x": {"field": "x", "type": "quantitative", "scale": {"domain": [0,120], "nice": false, "zero": false},
          "axis": {"orient": "bottom", "values": [0,5,10,15,20,25,30,35,40,45,50,55,60,65,70,75,80,85,90,95,100,105,110,115,120], "labelExpr": "datum.value % 20 == 0 ? datum.label : ''", "labelFontSize": 10, "labelPadding": 7, "tickSize": {"condition": {"test": "datum.value % 20 == 0", "value": -5}, "value": -2.5},
                   "title": "pT(b₂) [GeV]", "titleFontSize": 9.5, "titlePadding": 2}},
    "y": {"field": "tl", "type": "quantitative", "scale": {"domain": [0.4,2.5], "nice": false, "zero": false},
          "axis": {"orient": "left", "values": [0.4,0.5,0.6,0.7,0.8,0.9,1,1.1,1.2,1.3,1.4,1.5,1.6,1.7,1.8,1.9,2,2.1,2.2,2.3,2.4,2.5], "labelExpr": "(round(datum.value*10) % 5 == 0 && datum.value < 2.4) ? format(datum.value, '.1~f') : ''", "labelFontSize": 7.5, "labelPadding": 7, "title": null,
                   "tickSize": {"condition": {"test": "round(datum.value*10) % 5 == 0", "value": -4}, "value": -2}}},
    "y2": {"field": "th"}
   }
  },
  {
   "mark": {"type": "area", "interpolate": "step-after", "color": "#ffb0b0", "clip": true},
   "encoding": {
    "x": {"field": "x", "type": "quantitative", "scale": {"domain": [0,120], "nice": false, "zero": false}, "axis": null},
    "y": {"field": "rl", "type": "quantitative", "scale": {"domain": [0.4,2.5], "nice": false, "zero": false}, "axis": null},
    "y2": {"field": "rh"}
   }
  },
  {
   "mark": {"type": "line", "interpolate": "step-after", "color": "#2aa5a5", "strokeWidth": 1, "clip": true},
   "encoding": {
    "x": {"field": "x", "type": "quantitative", "scale": {"domain": [0,120], "nice": false, "zero": false}, "axis": null},
    "y": {"field": "kt", "type": "quantitative", "scale": {"domain": [0.4,2.5], "nice": false, "zero": false}, "axis": null}
   }
  },
  {
   "mark": {"type": "line", "interpolate": "step-after", "color": "#333", "strokeWidth": 1, "clip": true},
   "encoding": {
    "x": {"field": "x", "type": "quantitative", "scale": {"domain": [0,120], "nice": false, "zero": false}, "axis": null},
    "y": {"field": "kb", "type": "quantitative", "scale": {"domain": [0.4,2.5], "nice": false, "zero": false}, "axis": null}
   }
  },
  {
   "mark": {"type": "line", "interpolate": "step-after", "color": "#ff3030", "strokeWidth": 1, "clip": true},
   "encoding": {
    "x": {"field": "x", "type": "quantitative", "scale": {"domain": [0,120], "nice": false, "zero": false}, "axis": null},
    "y": {"field": "kr", "type": "quantitative", "scale": {"domain": [0.4,2.5], "nice": false, "zero": false}, "axis": null}
   }
  },
  {
   "mark": {"type": "line", "interpolate": "step-after", "color": "#6f45d8", "strokeWidth": 1, "clip": true},
   "encoding": {
    "x": {"field": "x", "type": "quantitative", "scale": {"domain": [0,120], "nice": false, "zero": false},
          "axis": {"orient": "top", "values": [0,5,10,15,20,25,30,35,40,45,50,55,60,65,70,75,80,85,90,95,100,105,110,115,120], "labels": false, "title": null, "tickSize": {"condition": {"test": "datum.value % 20 == 0", "value": -5}, "value": -2.5}}},
    "y": {"field": "kp", "type": "quantitative", "scale": {"domain": [0.4,2.5], "nice": false, "zero": false},
          "axis": {"orient": "right", "values": [0.4,0.5,0.6,0.7,0.8,0.9,1,1.1,1.2,1.3,1.4,1.5,1.6,1.7,1.8,1.9,2,2.1,2.2,2.3,2.4,2.5], "labels": false, "title": null, "tickSize": {"condition": {"test": "round(datum.value*10) % 5 == 0", "value": -4}, "value": -2}}}
   }
  },
  {
   "data": {"values": [{}]},
   "mark": {"type": "text", "align": "left", "baseline": "middle", "fontSize": 6},
   "encoding": {"x": {"datum": 1.0, "type": "quantitative", "scale": {"domain": [0,120], "nice": false, "zero": false}, "axis": null},
                "y": {"datum": 1.95, "type": "quantitative", "scale": {"domain": [0.4,2.5], "nice": false, "zero": false}, "axis": null},
                "text": {"value": "NLO/LO K-factor"}}
  }
 ]
}
]
}
